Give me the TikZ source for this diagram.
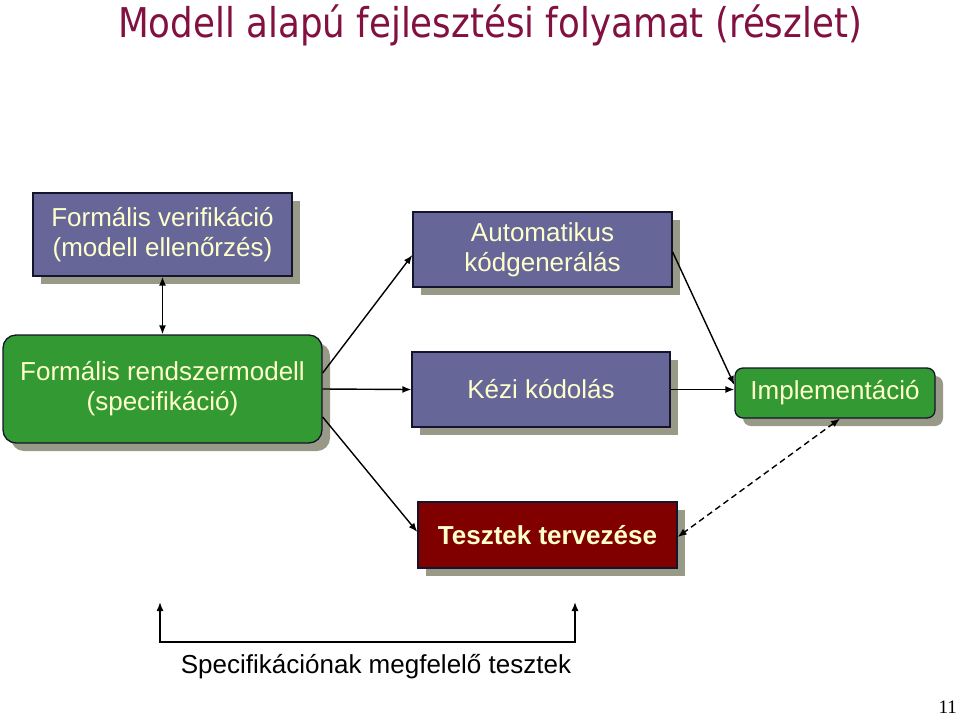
\documentclass[tikz,border=0pt]{standalone}
\usepackage{fontspec}
\setmainfont{Liberation Sans}
\newfontfamily\titlefont[FakeStretch=0.87]{DejaVu Sans}
\newfontfamily\numfont{Liberation Serif}
\usetikzlibrary{shadows,arrows.meta,calc}
\definecolor{boxblue}{RGB}{102,102,153}
\definecolor{boxgreen}{RGB}{51,153,51}
\definecolor{boxred}{RGB}{128,0,0}
\definecolor{cream}{RGB}{255,255,204}
\definecolor{shgray}{RGB}{153,153,136}
\definecolor{titlecol}{RGB}{130,16,64}
\definecolor{edgecol}{RGB}{20,20,45}
\tikzset{
  box/.style={draw=edgecol, line width=1.3pt, text=cream, align=center, inner sep=0pt,
    font=\fontsize{26}{30}\selectfont,
    drop shadow={shadow xshift=8pt, shadow yshift=-8pt, opacity=1, fill=shgray}},
  bluebox/.style={box, fill=boxblue},
  greenbox/.style={box, fill=boxgreen},
  redbox/.style={box, fill=boxred, font=\fontsize{26}{30}\selectfont\bfseries},
  arr/.style={-{Latex[length=9pt,width=7pt]}, line width=1.4pt},
  arrboth/.style={{Latex[length=9pt,width=7pt]}-{Latex[length=9pt,width=7pt]}, line width=1.4pt},
}
\begin{document}
\begin{tikzpicture}[x=1pt,y=-1pt]
\useasboundingbox (0,0) rectangle (960,718);
% title
\node[anchor=base, text=titlecol, font=\titlefont\fontsize{41}{46}\selectfont, inner sep=0pt] (title) at (490,37) {Modell alapú fejlesztési folyamat (részlet)};
% boxes
\node[bluebox, minimum width=259pt, minimum height=83pt] (verif) at (162.5,234.5) {Formális verifikáció\\(modell ellenőrzés)};
\node[bluebox, minimum width=259pt, minimum height=75pt] (auto) at (542.5,249.5) {Automatikus\\kódgenerálás};
\node[bluebox, minimum width=258pt, minimum height=75pt] (kezi) at (541,389.5) {Kézi kódolás};
\node[greenbox, rounded corners=13pt, minimum width=319pt, minimum height=108pt] (rm) at (162.5,389) {Formális rendszermodell\\(specifikáció)};
\node[greenbox, rounded corners=8pt, minimum width=200pt, minimum height=50pt] (impl) at (835,393) {Implementáció};
\node[redbox, minimum width=259pt, minimum height=66pt] (tesz) at (547.5,535) {Tesztek tervezése};
% connectors
\draw[arrboth] (verif.south) -- (rm.north);
\draw[arr] ([yshift=16pt]rm.east) -- ([yshift=-5.5pt]auto.west);
\draw[arr] (rm.east) -- (kezi.west);
\draw[arr] ([yshift=-28pt]rm.east) -- ([yshift=3pt]tesz.west);
\draw[arr] ([yshift=-2.5pt]auto.east) -- ([yshift=8pt]impl.west);
\draw[arr] (kezi.east) -- (kezi.east -| impl.west);
\draw[arrboth, dashed, dash pattern=on 6pt off 4pt] ([xshift=5pt]impl.south) -- ([yshift=-2pt]tesz.east);
% bottom bracket
\coordinate (bl) at (160,602);
\coordinate (br) at (575,602);
\coordinate (bl0) at (160,642);
\coordinate (br0) at (575,642);
\draw[arrboth] (bl) -- (bl0) -- (br0) -- (br);
\node[font=\fontsize{26}{30}\selectfont, inner sep=0pt, anchor=base] (spec) at (376,673) {Specifikációnak megfelelő tesztek};
% page number
\node[font=\numfont\fontsize{19}{21}\selectfont, inner sep=0pt, anchor=base east] (pnum) at (957,713) {11};
\end{tikzpicture}
\end{document}
